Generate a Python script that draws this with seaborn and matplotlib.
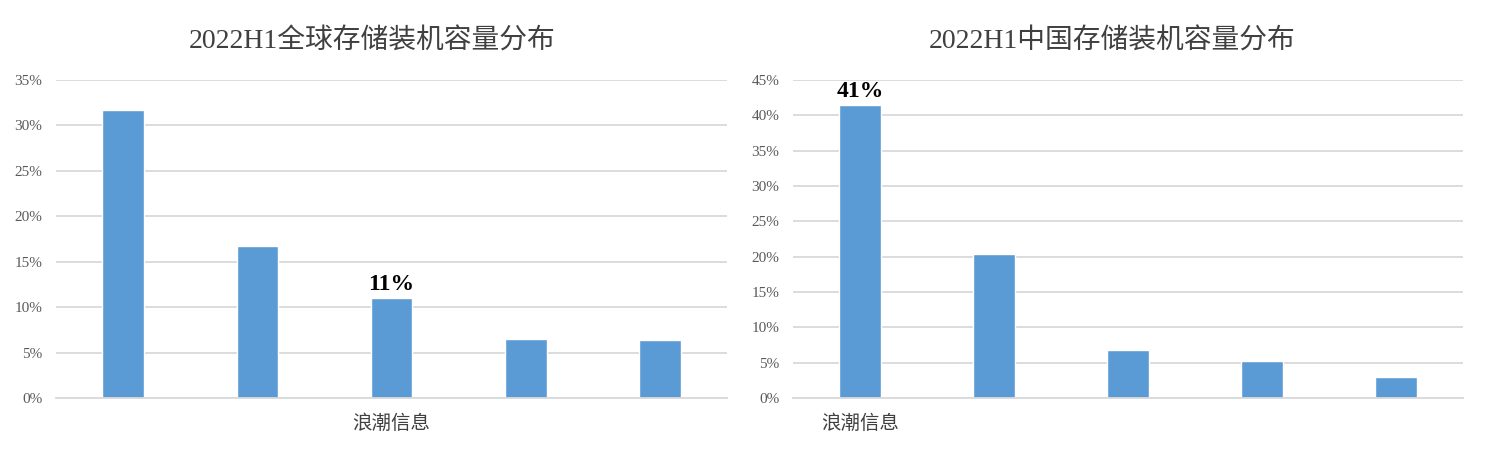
import matplotlib
matplotlib.use("Agg")
import matplotlib.pyplot as plt
import seaborn as sns
import pandas as pd

# ---- data ----
categories = ["A", "B", "C", "D", "E"]
global_share = [31.7, 16.7, 11.0, 6.5, 6.4]
china_share = [41.5, 20.4, 6.8, 5.2, 3.0]
global_ticklabels = ["", "", "浪潮信息", "", ""]
china_ticklabels = ["浪潮信息", "", "", "", ""]
global_title = "2022H1全球存储装机容量分布"
china_title = "2022H1中国存储装机容量分布"
global_note_idx, global_note = 2, "11%"
china_note_idx, china_note = 0, "41%"
global_yticks = [0, 5, 10, 15, 20, 25, 30, 35]
china_yticks = [0, 5, 10, 15, 20, 25, 30, 35, 40, 45]

sns.set_theme(style="white")
plt.rcParams["font.family"] = ["Liberation Serif", "Noto Sans CJK SC", "DejaVu Sans"]

fig = plt.figure(figsize=(14.87, 4.5), dpi=100)
ax1 = fig.add_axes([0.0377, 0.1156, 0.4513, 0.7067])
ax2 = fig.add_axes([0.5333, 0.1156, 0.4506, 0.7067])

bar_color = "#5B9BD5"
grid_color = "#D9D9D9"

def draw(ax, vals, ticklabels, title, title_x, yticks, note_idx, note):
    df = pd.DataFrame({"cat": categories, "val": vals})
    sns.barplot(data=df, x="cat", y="val", ax=ax, color=bar_color,
                width=0.31, saturation=1, order=categories)
    ax.set_ylim(0, yticks[-1])
    ax.set_xlim(-0.5, 4.5)
    ax.set_yticks(yticks)
    ax.set_yticklabels([f"{t}%" for t in yticks], fontsize=11, color="#595959")
    ax.set_xticks(range(len(categories)))
    ax.set_xticklabels(ticklabels, fontsize=14, color="#404040")
    ax.tick_params(axis="x", length=0, pad=12)
    ax.tick_params(axis="y", length=0, pad=10)
    ax.set_xlabel("")
    ax.set_ylabel("")
    ax.yaxis.grid(True, color=grid_color, linewidth=1.3)
    ax.set_axisbelow(True)
    for s in ["top", "right", "left"]:
        ax.spines[s].set_visible(False)
    ax.spines["bottom"].set_color(grid_color)
    ax.spines["bottom"].set_linewidth(1.3)
    fig.text(title_x, 0.908, title, fontsize=20, color="#404040",
             ha="center", va="center")
    ax.text(note_idx, vals[note_idx] + yticks[-1] * 0.008, note,
            ha="center", va="bottom", fontsize=17, fontweight="bold", color="black")

draw(ax1, global_share, global_ticklabels, global_title, 0.25, global_yticks,
     global_note_idx, global_note)
draw(ax2, china_share, china_ticklabels, china_title, 0.748, china_yticks,
     china_note_idx, china_note)

fig.savefig("out.png", dpi=100, facecolor="white")
